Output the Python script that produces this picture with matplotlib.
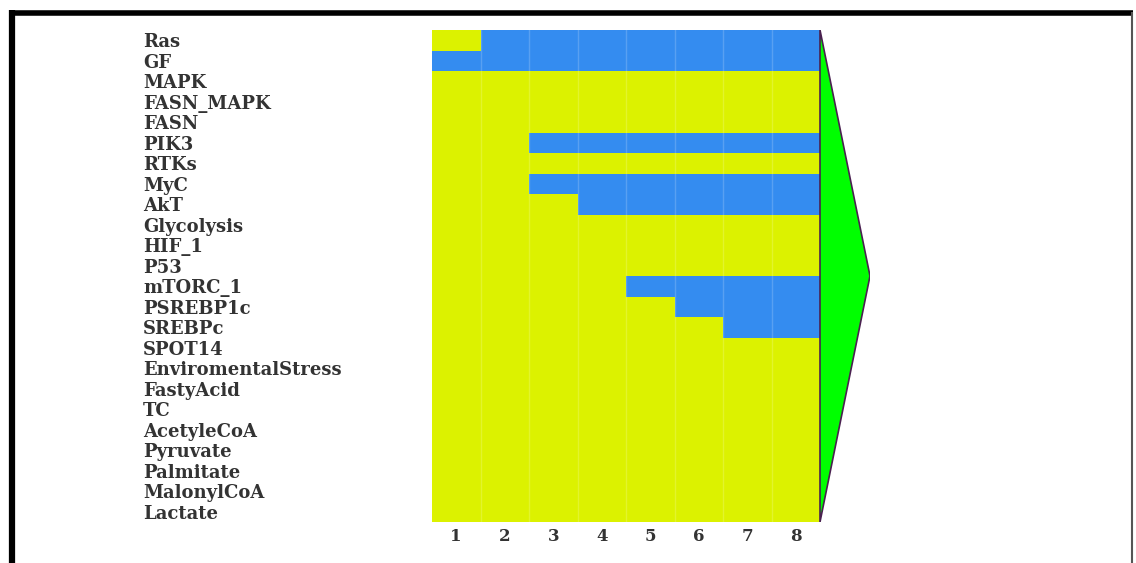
import matplotlib
matplotlib.use("Agg")
import matplotlib.pyplot as plt
from matplotlib.colors import ListedColormap
from matplotlib.lines import Line2D
from matplotlib.patches import Polygon
import numpy as np

# ---- data ----
nodes = ["Ras", "GF", "MAPK", "FASN_MAPK", "FASN", "PIK3", "RTKs", "MyC", "AkT",
         "Glycolysis", "HIF_1", "P53", "mTORC_1", "PSREBP1c", "SREBPc", "SPOT14",
         "EnviromentalStress", "FastyAcid", "TC", "AcetyleCoA", "Pyruvate",
         "Palmitate", "MalonylCoA", "Lactate"]
steps = ["1", "2", "3", "4", "5", "6", "7", "8"]
# 1 = active (blue), 0 = inactive (yellow)
states = [
    [0, 1, 1, 1, 1, 1, 1, 1],  # Ras
    [1, 1, 1, 1, 1, 1, 1, 1],  # GF
    [0, 0, 0, 0, 0, 0, 0, 0],  # MAPK
    [0, 0, 0, 0, 0, 0, 0, 0],  # FASN_MAPK
    [0, 0, 0, 0, 0, 0, 0, 0],  # FASN
    [0, 0, 1, 1, 1, 1, 1, 1],  # PIK3
    [0, 0, 0, 0, 0, 0, 0, 0],  # RTKs
    [0, 0, 1, 1, 1, 1, 1, 1],  # MyC
    [0, 0, 0, 1, 1, 1, 1, 1],  # AkT
    [0, 0, 0, 0, 0, 0, 0, 0],  # Glycolysis
    [0, 0, 0, 0, 0, 0, 0, 0],  # HIF_1
    [0, 0, 0, 0, 0, 0, 0, 0],  # P53
    [0, 0, 0, 0, 1, 1, 1, 1],  # mTORC_1
    [0, 0, 0, 0, 0, 1, 1, 1],  # PSREBP1c
    [0, 0, 0, 0, 0, 0, 1, 1],  # SREBPc
    [0, 0, 0, 0, 0, 0, 0, 0],  # SPOT14
    [0, 0, 0, 0, 0, 0, 0, 0],  # EnviromentalStress
    [0, 0, 0, 0, 0, 0, 0, 0],  # FastyAcid
    [0, 0, 0, 0, 0, 0, 0, 0],  # TC
    [0, 0, 0, 0, 0, 0, 0, 0],  # AcetyleCoA
    [0, 0, 0, 0, 0, 0, 0, 0],  # Pyruvate
    [0, 0, 0, 0, 0, 0, 0, 0],  # Palmitate
    [0, 0, 0, 0, 0, 0, 0, 0],  # MalonylCoA
    [0, 0, 0, 0, 0, 0, 0, 0],  # Lactate
]

yellow = "#DCF200"
blue = "#348CF0"
green = "#00FF00"

W, H = 1136, 563
fig = plt.figure(figsize=(W / 100, H / 100), dpi=100)
fig.patch.set_facecolor("white")

n_rows = len(nodes)
n_cols = len(steps)
x0, x1 = 432, 870          # axes pixel span (heatmap + arrow)
y_top, y_bot = 30, 522
heat_w = 820 - 432
arrow_extra = (x1 - 820) / heat_w * n_cols

ax = fig.add_axes([x0 / W, 1 - y_bot / H, (x1 - x0) / W, (y_bot - y_top) / H])
data = np.array(states)
ax.pcolormesh(np.arange(n_cols + 1), np.arange(n_rows + 1), data,
              cmap=ListedColormap([yellow, blue]), vmin=0, vmax=1)
for c in range(1, n_cols):
    ax.axvline(c, color="white", alpha=0.18, lw=1)

tri = Polygon([[n_cols, 0], [n_cols + arrow_extra, n_rows / 2], [n_cols, n_rows]],
              closed=True, facecolor=green, edgecolor="#4a2050", lw=1.2)
ax.add_patch(tri)

ax.set_xlim(0, n_cols + arrow_extra)
ax.set_ylim(n_rows, 0)
for s in ax.spines.values():
    s.set_visible(False)

ax.set_yticks(np.arange(n_rows) + 0.5)
ax.set_yticklabels(nodes, family="DejaVu Serif", fontweight="bold",
                   fontsize=13, color="#333333", ha="left")
ax.tick_params(axis="y", length=0, pad=(432 - 143) * 0.72)
ax.set_xticks(np.arange(n_cols) + 0.5)
ax.set_xticklabels(steps, family="DejaVu Serif", fontweight="bold",
                   fontsize=12, color="#333333")
ax.tick_params(axis="x", length=0, pad=4)

# frame lines
fig.add_artist(Line2D([12 / W, 12 / W], [0, 1 - 10 / H], color="black", lw=4.5,
                      transform=fig.transFigure, solid_capstyle="butt"))
fig.add_artist(Line2D([9 / W, 1133 / W], [1 - 12.5 / H, 1 - 12.5 / H], color="black",
                      lw=4, transform=fig.transFigure, solid_capstyle="butt"))
fig.add_artist(Line2D([1132 / W, 1132 / W], [0, 1 - 12 / H], color="#555555", lw=1.5,
                      transform=fig.transFigure, solid_capstyle="butt"))

fig.savefig("out.png", dpi=100)
